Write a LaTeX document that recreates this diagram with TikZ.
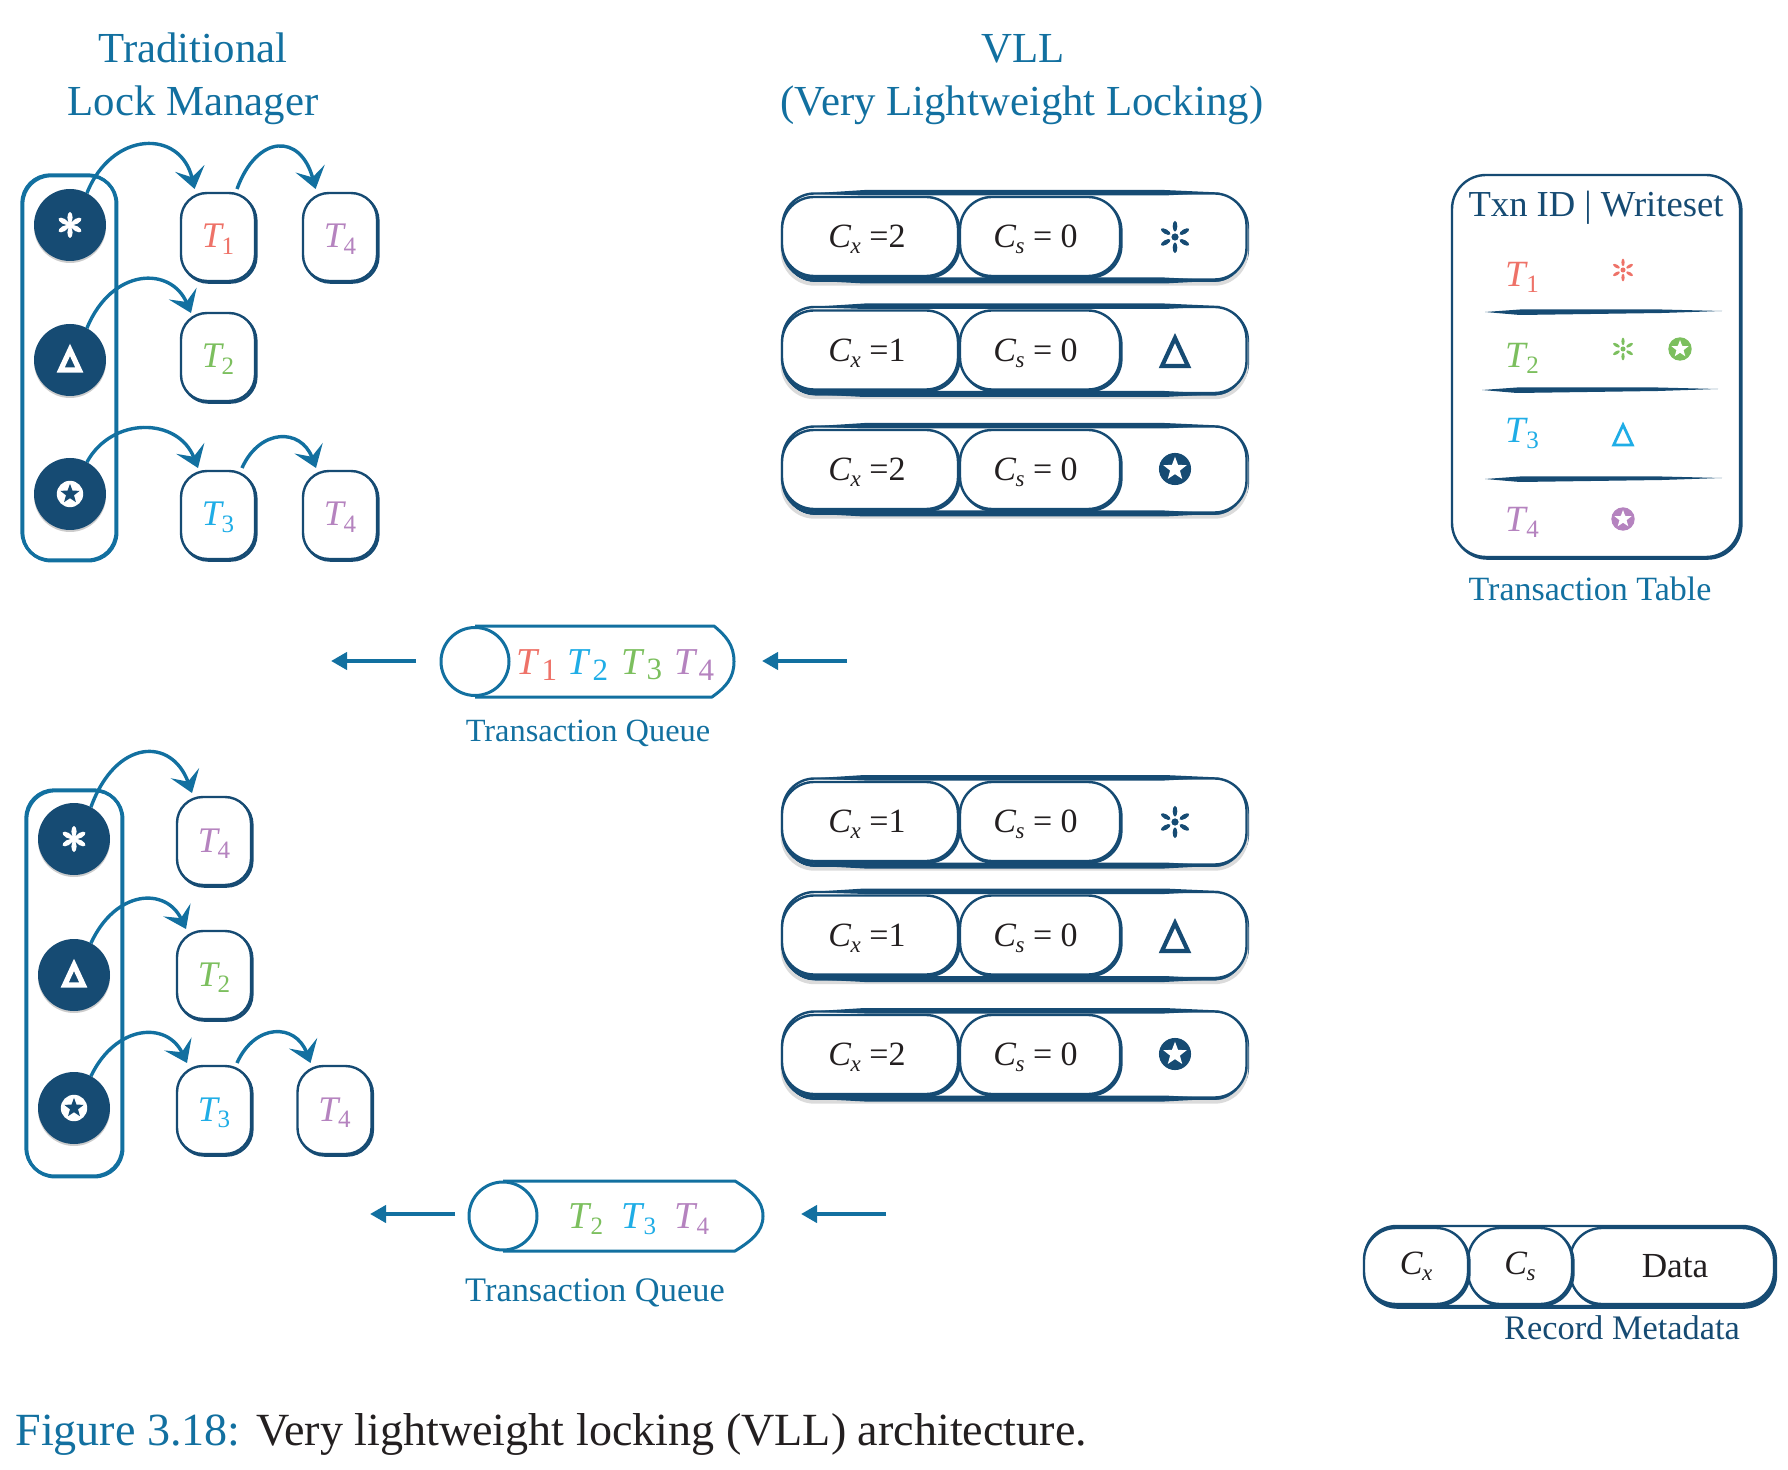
\documentclass[tikz,border=0pt]{standalone}
\usepackage{fontspec}
\setmainfont{Liberation Serif}
\usetikzlibrary{arrows.meta,calc}
\definecolor{navy}{HTML}{164B73}
\definecolor{inkblue}{HTML}{1270A0}
\definecolor{tred}{HTML}{EE7268}
\definecolor{tgreen}{HTML}{7CBF5E}
\definecolor{tcyan}{HTML}{1FADE6}
\definecolor{tpurple}{HTML}{B583BF}
\definecolor{ink}{HTML}{231F20}
\newcommand\fs[1]{\fontsize{#1}{#1}\selectfont}
% T with subscript: colour, digit
\newcommand\Tsub[2]{\raisebox{-5.5pt}[0pt][0pt]{\color{#1}\textit{T}\kern-.06em\raisebox{-.4ex}{\fs{12.5}#2}}}
\newcommand\Tq[2]{{\color{#1}\textit{T}\kern.03em\raisebox{-.3ex}{\fs{15.5}#2}}}
\newcommand\Tr[2]{\raisebox{-5pt}[0pt][0pt]{\color{#1}\textit{T}\kern-.04em\raisebox{-.35ex}{\fs{12.5}#2}}}
\newcommand\Csub[1]{\textit{C}\kern-.02em\raisebox{-.4ex}{\fs{11.5}\textit{#1}}}
% symbols (x, y, colour, scale)
\newcommand\symast[4]{\begin{scope}[shift={(#1,#2)},scale=#4]
  \fill[#3] (0,0) circle (3.6);
  \foreach \a in {30,90,...,330}{\fill[#3,rotate=\a] (10.8,0) ellipse (5.4 and 2.3);}
\end{scope}}
\newcommand\symastb[4]{\begin{scope}[shift={(#1,#2)},scale=#4]
  \fill[#3] (0,0) circle (4);
  \foreach \a in {30,90,...,330}{\fill[#3,rotate=\a] (7.5,0) ellipse (5.5 and 2.6);}
\end{scope}}
\newcommand\symtri[5]{\begin{scope}[shift={(#1,#2)},scale=#4]
  \draw[#3,line width=#5pt,line join=miter] (0,-14) -- (13,14) -- (-13,14) -- cycle;
\end{scope}}
\newcommand\symstar[5]{\begin{scope}[shift={(#1,#2)},scale=#4]
  \fill[#3] (0,0) circle (15);
  \fill[#5] (-90:11.5) -- (-54:4.8) -- (-18:11.5) -- (18:4.8) -- (54:11.5) -- (90:4.8) -- (126:11.5) -- (162:4.8) -- (198:11.5) -- (234:4.8) -- cycle;
\end{scope}}
\newcommand\ruleline[3]{\begin{scope}[shift={(#1,#2)}]
  \fill[navy] (0,0) -- (35,-2.5) -- (#3-60,-2.5) -- (#3,-1) -- (#3-60,1) -- (35,3) -- cycle;
\end{scope}}
\tikzset{
  x=.5pt,y=-.5pt,
  brush/.style={fill=white,draw=navy,line width=1.2pt,outer sep=0pt,inner sep=0pt,
    preaction={draw=navy,line width=1.2pt,fill=none,transform canvas={xshift=.7pt,yshift=-.8pt}}},
  shadowed/.style={preaction={draw=black!14,line width=1.8pt,fill=none,transform canvas={yshift=-2.2pt}}},
  tbox/.style={brush,rounded corners=13pt,minimum width=37pt,minimum height=44pt,font=\fs{18}},
  holder/.style={draw=inkblue,line width=1.6pt,outer sep=0pt,rounded corners=14pt,minimum width=46pt,
    preaction={draw=inkblue,line width=1.6pt,transform canvas={xshift=.4pt,yshift=-.4pt}}},
  lockdot/.style={circle,fill=navy,minimum size=36pt,inner sep=0pt,outer sep=0pt,
    preaction={fill=black!20,transform canvas={yshift=-1pt}}},
  curved/.style={draw=inkblue,line width=1.7pt,-{Stealth[length=10.5pt,width=15pt,inset=4.5pt]}},
  qarrow/.style={draw=inkblue,line width=2pt,-{Triangle[length=8pt,width=8.5pt]}},
  qline/.style={draw=inkblue,line width=1.5pt,line join=round},
  outerpill/.style={brush,shadowed,rounded corners=16pt,minimum width=232pt,minimum height=43pt},
  cellxbox/.style={brush,rounded corners=16pt,minimum width=88pt,minimum height=39.5pt,font=\fs{17},text=ink},
  cellsbox/.style={brush,rounded corners=16pt,minimum width=80pt,minimum height=39.5pt,font=\fs{17},text=ink},
  title/.style={text=inkblue,font=\fs{21.4},inner sep=0pt},
  lab/.style={text=inkblue,inner sep=0pt},
  plain/.style={inner sep=0pt},
}
\newcommand\vllrow[3]{%
  \node[outerpill] (#1o) at (1014.5,#2) {};
  \begin{scope}[shift={(1014.5,#2)}]
    \fill[navy] (-205,-43) -- (-150,-46.5) -- (150,-46.5) -- (205,-44) -- (150,-41) -- (-150,-41) -- cycle;
    \fill[navy] (-205,44) -- (-150,41) -- (150,41) -- (205,44) -- (150,47) -- (-150,47) -- cycle;
  \end{scope}
  \node[cellsbox] (#1s) at (1040,#2) {\raisebox{-5.6pt}[0pt][0pt]{\Csub{s} = 0\hspace{4.5pt}}};
  \node[cellxbox] (#1x) at (870,#2) {\raisebox{-5.6pt}[0pt][0pt]{\Csub{x} =#3\hspace{3pt}}};
}
\begin{document}
\begin{tikzpicture}
\useasboundingbox (0,0) rectangle (1788,1470);
% titles
\node[title] (t1a) at (193,48) {Traditional};
\node[title] (t1b) at (193,105) {Lock Manager};
\node[title] (t2a) at (1023,49) {VLL};
\node[title] (t2b) at (1022,105) {(Very Lightweight Locking)};
% upper lock manager
\node[holder,minimum width=47pt,minimum height=192.5pt] (h1) at (69,367.5) {};
\node[lockdot] (c1) at (70,225) {};
\node[lockdot] (c2) at (70,360) {};
\node[lockdot] (c3) at (70,494) {};
\symastb{70}{225}{white}{1}
\symtri{70}{360}{white}{.72}{2.6}
\symstar{70}{494}{white}{.88}{navy}
\node[tbox] (a1) at (218,237) {\Tsub{tred}{1}};
\node[tbox] (a2) at (340,237) {\Tsub{tpurple}{4}};
\node[tbox] (a3) at (218,357) {\Tsub{tgreen}{2}};
\node[tbox] (a4) at (218,515) {\Tsub{tcyan}{3}};
\node[tbox] (a5) at (340,515) {\Tsub{tpurple}{4}};
\draw[curved] (c1.62) .. controls +(25,-63) and +(-14,-60) .. ([xshift=-11.7pt,yshift=2pt]a1.north);
\draw[curved] ([xshift=9.5pt,yshift=2pt]a1.north) .. controls +(20,-55) and +(-15,-56) .. ([xshift=-12.2pt,yshift=2pt]a2.north);
\draw[curved] (c2.62) .. controls +(25,-61) and +(-20,-47) .. ([xshift=-13.5pt]a3.north);
\draw[curved] (c3.62) .. controls +(25,-46) and +(-20,-51) .. ([xshift=-10pt,yshift=1.5pt]a4.north);
\draw[curved] ([xshift=12pt,yshift=1.5pt]a4.north) .. controls +(18,-40) and +(-15,-40) .. ([xshift=-12pt,yshift=1.5pt]a5.north);
% lower lock manager
\node[holder,minimum width=48pt,minimum height=193pt] (h2) at (74,983) {};
\node[lockdot] (d1) at (74,839) {};
\node[lockdot] (d2) at (74,975) {};
\node[lockdot] (d3) at (74,1108) {};
\symastb{74}{839}{white}{1}
\symtri{74}{975}{white}{.72}{2.6}
\symstar{74}{1108}{white}{.88}{navy}
\node[tbox] (b1) at (214,841) {\Tsub{tpurple}{4}};
\node[tbox] (b2) at (214,975) {\Tsub{tgreen}{2}};
\node[tbox] (b3) at (214,1110) {\Tsub{tcyan}{3}};
\node[tbox] (b4) at (334.5,1110) {\Tsub{tpurple}{4}};
\draw[curved] (d1.62) .. controls +(25,-69) and +(-20,-56) .. ([xshift=-11pt,yshift=2pt]b1.north);
\draw[curved] (d2.62) .. controls +(25,-54) and +(-20,-42) .. ([xshift=-14pt,yshift=1pt]b2.north);
\draw[curved] (d3.62) .. controls +(25,-52) and +(-20,-42) .. ([xshift=-13.5pt,yshift=1.5pt]b3.north);
\draw[curved] ([xshift=11.5pt,yshift=1.5pt]b3.north) .. controls +(18,-40) and +(-15,-40) .. ([xshift=-12pt,yshift=1.5pt]b4.north);
% VLL rows
\vllrow{r1}{236.5}{2}
\vllrow{r2}{350}{1}
\vllrow{r3}{469.5}{2}
\vllrow{r4}{821.5}{1}
\vllrow{r5}{935}{1}
\vllrow{r6}{1054.5}{2}
\symast{1175}{237}{navy}{1}
\symtri{1175}{352}{navy}{1}{2.1}
\symstar{1175}{469}{navy}{1.07}{white}
\symast{1175}{822}{navy}{1}
\symtri{1175}{937}{navy}{1}{2.1}
\symstar{1175}{1054}{navy}{1.07}{white}
% transaction table
\node[brush,rounded corners=17pt,minimum width=144pt,minimum height=191pt] (tbl) at (1596,366) {};
\node[plain,text=navy,font=\fs{18.3}] (thead) at (1596,208) {Txn ID | Writeset};
\ruleline{1485}{312}{237}
\ruleline{1482}{390}{236}
\ruleline{1485}{479}{237}
\node[plain,font=\fs{18.5}] (tt1) at (1522,277) {\Tr{tred}{1}};
\node[plain,font=\fs{18.5}] (tt2) at (1522,358) {\Tr{tgreen}{2}};
\node[plain,font=\fs{18.5}] (tt3) at (1522,433) {\Tr{tcyan}{3}};
\node[plain,font=\fs{18.5}] (tt4) at (1522,522) {\Tr{tpurple}{4}};
\symast{1623}{270}{tred}{.7}
\symast{1623}{349}{tgreen}{.7}
\symstar{1680}{349}{tgreen}{.78}{white}
\symtri{1623}{435}{tcyan}{.72}{1.4}
\symstar{1623}{519}{tpurple}{.78}{white}
\node[lab,font=\fs{17}] (ltbl) at (1590,589) {Transaction Table};
% queue 1
\draw[qline] (475,626) -- (714,626) .. controls (726,636) and (734,645) .. (734,661.5) .. controls (734,678) and (726,687) .. (712,697) -- (475,697);
\node[circle,draw=inkblue,line width=1.5pt,fill=white,minimum size=34pt,inner sep=0pt,outer sep=0pt] (qc1) at (475,661.5) {};
\node[plain,font=\fs{19}] (q1a) at (537,665) {\Tq{tred}{1}};
\node[plain,font=\fs{19}] (q1b) at (588,665) {\Tq{tcyan}{2}};
\node[plain,font=\fs{19}] (q1c) at (642,665) {\Tq{tgreen}{3}};
\node[plain,font=\fs{19}] (q1d) at (694,665) {\Tq{tpurple}{4}};
\coordinate (p1) at (416,661); \coordinate (p2) at (331,661);
\coordinate (p3) at (847,661); \coordinate (p4) at (762,661);
\draw[qarrow] (p1) -- (p2);
\draw[qarrow] (p3) -- (p4);
\node[lab,font=\fs{16.2}] (lq1) at (588,733) {Transaction Queue};
% queue 2
\draw[qline] (503,1181) -- (735,1181) .. controls (751,1191) and (763,1200) .. (763,1216) .. controls (763,1232) and (751,1241) .. (735,1251) -- (503,1251);
\node[circle,draw=inkblue,line width=1.5pt,fill=white,minimum size=34pt,inner sep=0pt,outer sep=0pt] (qc2) at (503,1216) {};
\node[plain,font=\fs{19}] (q2b) at (586,1218) {\Tr{tgreen}{2}};
\node[plain,font=\fs{19}] (q2c) at (639,1218) {\Tr{tcyan}{3}};
\node[plain,font=\fs{19}] (q2d) at (692,1218) {\Tr{tpurple}{4}};
\coordinate (p5) at (455,1214); \coordinate (p6) at (370,1214);
\coordinate (p7) at (886,1214); \coordinate (p8) at (801,1214);
\draw[qarrow] (p5) -- (p6);
\draw[qarrow] (p7) -- (p8);
\node[lab,font=\fs{17.2}] (lq2) at (595,1293) {Transaction Queue};
% record metadata
\node[brush,rounded corners=16pt,minimum width=205pt,minimum height=40pt] (mo) at (1569.5,1266) {};
\node[brush,rounded corners=16pt,minimum width=102pt,minimum height=38pt,font=\fs{17.6},text=ink] (md) at (1672,1266) {\mbox{\hspace{3pt}Data}};
\node[brush,rounded corners=16pt,minimum width=52pt,minimum height=38pt,font=\fs{17},text=ink] (ms) at (1520,1266) {\Csub{s}};
\node[brush,rounded corners=16pt,minimum width=52pt,minimum height=38pt,font=\fs{17},text=ink] (mx) at (1416,1266) {\Csub{x}};
\node[plain,text=navy,font=\fs{17.2}] (lm) at (1622,1328) {Record Metadata};
% caption
\node[plain,anchor=west,font=\fs{23.05},text=ink] (cap) at (15,1434) {{\color{inkblue}Figure 3.18:} Very lightweight locking (VLL) architecture.};
\end{tikzpicture}
\end{document}
